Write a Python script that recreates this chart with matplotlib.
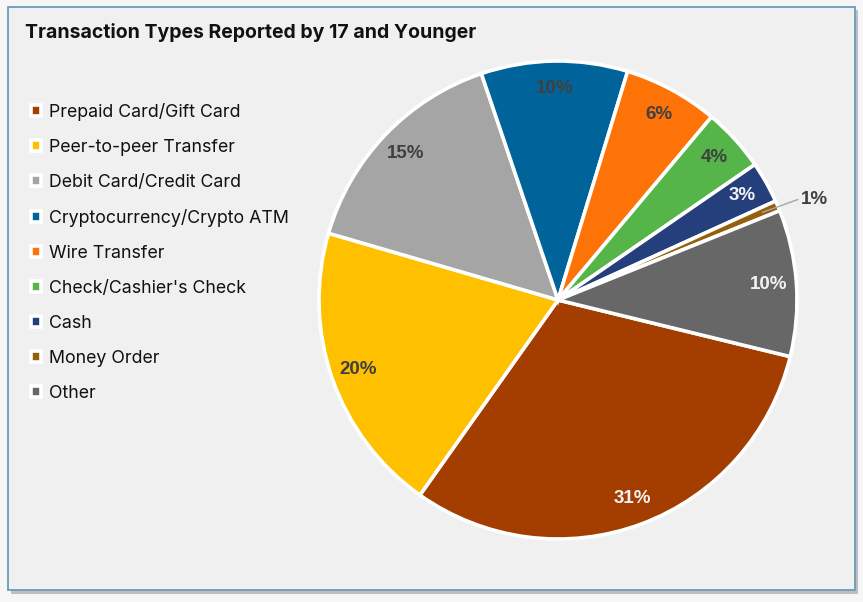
"""
Pie chart: transaction types reported by people aged 17 and younger.
"""

import matplotlib
matplotlib.use("Agg")
import matplotlib.pyplot as plt
from matplotlib.patches import Rectangle
import numpy as np

# ─────────────────────────────────────────────────────────────────────────────
# data (shares in %)
# ─────────────────────────────────────────────────────────────────────────────
categories = [
    "Prepaid Card/Gift Card",
    "Peer-to-peer Transfer",
    "Debit Card/Credit Card",
    "Cryptocurrency/Crypto ATM",
    "Wire Transfer",
    "Check/Cashier's Check",
    "Cash",
    "Money Order",
    "Other",
]
shares = [31.0, 19.7, 15.3, 9.9, 6.4, 4.3, 2.8, 0.7, 9.9]
colors = ["#a33e00", "#ffc000", "#a5a5a5", "#00639a", "#fe7308",
          "#55b548", "#253f7c", "#94600b", "#676767"]
label_colors = ["#f2f2f2", "#404040", "#404040", "#404040", "#404040",
                "#404040", "#f2f2f2", "#404040", "#f2f2f2"]

TITLE = "Transaction Types Reported by 17 and Younger"
BG = "#f0f0f0"

plt.rcParams["font.family"] = ["Inter", "DejaVu Sans"]

fig = plt.figure(figsize=(8.63, 6.02), dpi=100)
fig.patch.set_facecolor("#f6f6f6")

# card frame + shadow
W, H = 863, 602
fig.patches.append(Rectangle((11 / W, 1 - 594 / H), 847 / W, 584 / H,
                             transform=fig.transFigure, facecolor="#9a9a9a",
                             edgecolor="none", alpha=0.6, zorder=-10))
fig.patches.append(Rectangle((8 / W, 1 - 590 / H), 847 / W, 583 / H,
                             transform=fig.transFigure, facecolor=BG,
                             edgecolor="#6b9cb8", linewidth=1.3, zorder=-9))

fig.text(25 / W, 1 - 32 / H, TITLE, fontsize=14, fontweight="bold",
         color="#111111", va="center", ha="left")

# pie axes: centre (558, 300) px, radius ~239 px
cx, cy, r = 558, 300, 239
ax = fig.add_axes([(cx - r) / W, 1 - (cy + r) / H, 2 * r / W, 2 * r / H])
ax.set_facecolor("none")
ax.set_zorder(2)

wedges, texts, autotexts = ax.pie(
    shares,
    colors=colors,
    startangle=-13.7,
    counterclock=False,
    autopct="%.0f%%",
    pctdistance=0.885,
    wedgeprops=dict(edgecolor="white", linewidth=2.6),
    textprops=dict(fontsize=13.5, fontweight="bold",
                   family=["Liberation Sans", "DejaVu Sans"]),
)
ax.set_xlim(-1, 1)
ax.set_ylim(-1, 1)
ax.set_aspect("equal")

for t, c in zip(autotexts, label_colors):
    t.set_color(c)

# the tiny Money Order slice gets an outside label with a leader line
mo = wedges[7]
ang = np.deg2rad((mo.theta1 + mo.theta2) / 2)
autotexts[7].set_visible(False)
ax.annotate(
    f"{shares[7]:.0f}%",
    xy=(np.cos(ang) * 0.93, np.sin(ang) * 0.93),
    xytext=(1.015, 0.42),
    fontsize=13.5, fontweight="bold", color="#404040",
    family=["Liberation Sans", "DejaVu Sans"],
    ha="left", va="center",
    arrowprops=dict(arrowstyle="-", color="#a6a6a6", linewidth=1,
                    connectionstyle="angle,angleA=0,angleB=20,rad=0",
                    shrinkA=0, shrinkB=0),
)

leg = fig.legend(
    wedges, categories,
    loc="upper left",
    bbox_to_anchor=(31 / W, 1 - 103 / H),
    frameon=False,
    fontsize=12.8,
    handlelength=0.55,
    handleheight=0.55,
    handletextpad=0.45,
    labelspacing=1.01,
    borderaxespad=0,
    borderpad=0,
)
for txt in leg.get_texts():
    txt.set_color("#111111")

fig.savefig("out.png", dpi=100, facecolor=fig.get_facecolor())
